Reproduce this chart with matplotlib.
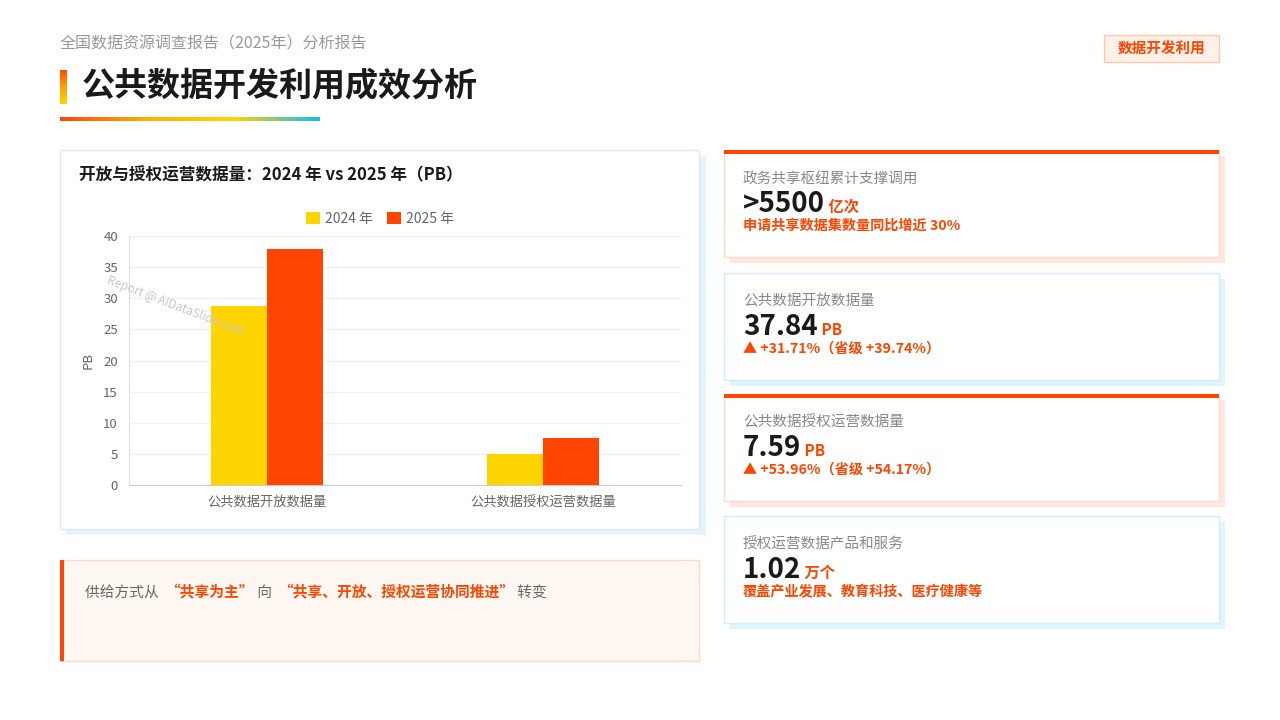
import matplotlib
matplotlib.use("Agg")
import matplotlib.pyplot as plt
import numpy as np
from matplotlib.patches import Rectangle
from matplotlib.colors import LinearSegmentedColormap

plt.rcParams['font.family'] = ['Noto Sans CJK SC', 'DejaVu Sans']

# 数据
categories = ["公共数据开放数据量", "公共数据授权运营数据量"]
years = ["2024 年", "2025 年"]
values_2024 = [28.73, 4.93]
values_2025 = [37.84, 7.59]

card_labels = ["政务共享枢纽累计支撑调用", "公共数据开放数据量", "公共数据授权运营数据量", "授权运营数据产品和服务"]
card_values = [">5500", "37.84", "7.59", "1.02"]
card_units = ["亿次", "PB", "PB", "万个"]
card_notes = ["申请共享数据集数量同比增近 30%", "▲ +31.71%（省级 +39.74%）",
              "▲ +53.96%（省级 +54.17%）", "覆盖产业发展、教育科技、医疗健康等"]
card_styles = ["orange", "blue", "orange", "blue"]

ORANGE = "#FF4500"
YELLOW = "#FFD500"
GRAY = "#666666"
W, H = 1280, 720


def fx(x):
    return x / W


def fy(y):
    return 1 - y / H


def rect(fig, x0, y0, x1, y1, z=-5, **kw):
    r = Rectangle((fx(x0), fy(y1)), (x1 - x0) / W, (y1 - y0) / H, transform=fig.transFigure, zorder=z, **kw)
    fig.add_artist(r)
    return r


def gradient(fig, x0, y0, x1, y1, colors, vertical=False):
    ax = fig.add_axes([fx(x0), fy(y1), (x1 - x0) / W, (y1 - y0) / H])
    cmap = LinearSegmentedColormap.from_list("g", colors)
    g = np.linspace(0, 1, 256)
    g = g.reshape(-1, 1) if vertical else g.reshape(1, -1)
    ax.imshow(g, aspect='auto', cmap=cmap, origin='upper')
    ax.set_axis_off()


def run_text(fig, renderer, x, y, parts):
    # parts: (text, color, weight, size)
    for txt, color, weight, size in parts:
        t = fig.text(fx(x), fy(y), txt, color=color, fontweight=weight, fontsize=size, va='baseline', ha='left')
        bb = t.get_window_extent(renderer)
        x += bb.width


fig = plt.figure(figsize=(12.8, 7.2), dpi=100)
fig.patch.set_facecolor("white")
renderer = fig.canvas.get_renderer()

# 页头
fig.text(fx(60), fy(44), "全国数据资源调查报告（2025年）分析报告", fontsize=11.5, color="#999999", va='center')
gradient(fig, 60, 70, 67, 104, [ORANGE, "#FFA000", YELLOW], vertical=True)
fig.text(fx(82), fy(86), "公共数据开发利用成效分析", fontsize=23.8, fontweight='bold', color="#1a1a1a", va='center')
gradient(fig, 60, 117, 320, 121, [ORANGE, "#FFB000", YELLOW, "#10C0F0"])

rect(fig, 1104, 35, 1219, 62, facecolor="#FFF0E8", edgecolor="#FFCBB0", lw=1)
fig.text(fx(1161.5), fy(48.5), "数据开发利用", fontsize=10.5, fontweight='bold', color=ORANGE, ha='center', va='center')

# 图表面板
rect(fig, 66, 156, 706, 535, facecolor="#E6F5FC", edgecolor="none")
rect(fig, 60, 150, 699, 529, facecolor="white", edgecolor="#E6E6E6", lw=1)
fig.text(fx(79), fy(175), "开放与授权运营数据量：2024 年 vs 2025 年（PB）", fontsize=12, fontweight='bold',
         color="#1a1a1a", va='center')

ax = fig.add_axes([fx(129), fy(485), (681 - 129) / W, (485 - 236) / H])
ax.patch.set_alpha(0)
x = np.arange(len(categories))
bw = 0.203
ax.bar(x - bw / 2, values_2024, bw, color=YELLOW, label=years[0], zorder=3)
ax.bar(x + bw / 2, values_2025, bw, color=ORANGE, label=years[1], zorder=3)
ax.set_xlim(-0.5, 1.5)
ax.set_ylim(0, 40)
ax.set_yticks(range(0, 41, 5))
ax.set_xticks(x)
ax.set_xticklabels(categories, fontsize=9.5, color=GRAY)
ax.tick_params(axis='y', labelsize=9.5, labelcolor=GRAY, length=0, pad=8)
ax.tick_params(axis='x', length=0, pad=8)
ax.grid(axis='y', color="#F0F0F0", lw=1, zorder=0)
for s in ["top", "right"]:
    ax.spines[s].set_visible(False)
ax.spines["left"].set_color("#E0E0E0")
ax.spines["bottom"].set_color("#CCCCCC")
ax.set_ylabel("PB", fontsize=9.5, color=GRAY, labelpad=6)
ax.legend(loc='center', bbox_to_anchor=(0.455, 1 + 17 / 249), ncol=2, frameon=False, fontsize=10,
          handlelength=1.0, handleheight=1.0, handletextpad=0.4, columnspacing=1.0, labelcolor=GRAY)
ax.text(0.085, 0.72, "Report @ AIDataSlide.com", transform=ax.transAxes, fontsize=8.5, color="#C8C8C8",
        rotation=-21, ha='center', va='center', fontstyle='italic', zorder=5)

# 底部说明框
rect(fig, 60, 560, 699, 661, facecolor="#FFF8F2", edgecolor="#FFD9C7", lw=1)
rect(fig, 60, 560, 64, 661, facecolor=ORANGE, edgecolor="none")
run_text(fig, renderer, 85, 597, [
    ("供给方式从  ", GRAY, 'normal', 10.6),
    ("“共享为主”", ORANGE, 'bold', 10.6),
    (" 向  ", GRAY, 'normal', 10.6),
    ("“共享、开放、授权运营协同推进”", ORANGE, 'bold', 10.6),
    (" 转变", GRAY, 'normal', 10.6),
])

# 右侧指标卡
card_tops = [150, 273, 394, 516]
card_h = 107
for i, top in enumerate(card_tops):
    if card_styles[i] == "orange":
        shadow, border = "#FFE8E0", "#FFD9CC"
    else:
        shadow, border = "#E0F4FD", "#D3ECF8"
    rect(fig, 730, top + 6, 1225, top + card_h + 6, facecolor=shadow, edgecolor="none")
    rect(fig, 724, top, 1219, top + card_h, facecolor="white", edgecolor=border, lw=1)
    if card_styles[i] == "orange":
        rect(fig, 724, top, 1219, top + 4, facecolor=ORANGE, edgecolor="none")
    fig.text(fx(743), fy(top + 29), card_labels[i], fontsize=10.5, color="#888888", va='center')
    run_text(fig, renderer, 743, top + 62, [
        (card_values[i], "#1a1a1a", 'bold', 20),
        (" " + card_units[i], ORANGE, 'bold', 11),
    ])
    fig.text(fx(743), fy(top + 76), card_notes[i], fontsize=10.2, color=ORANGE, fontweight='bold', va='center')

fig.savefig("out.png", dpi=100)
